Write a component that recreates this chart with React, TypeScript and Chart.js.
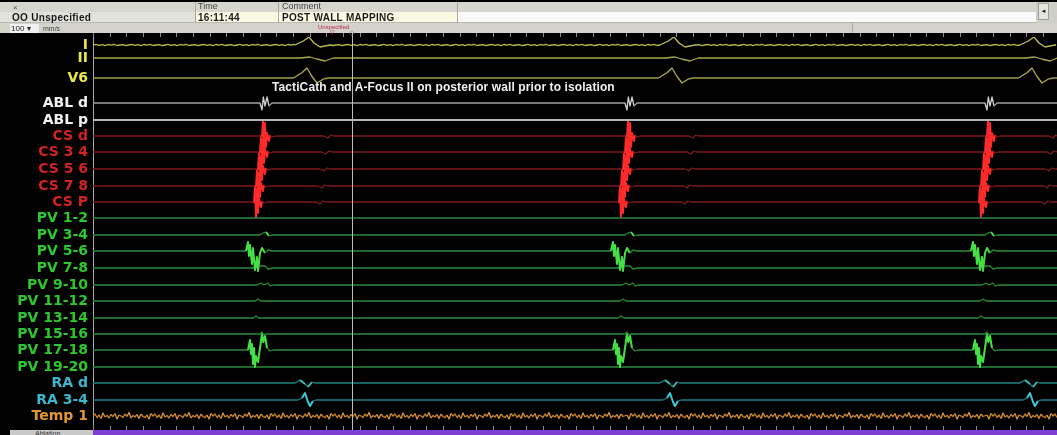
import React, { useEffect, useRef } from 'react';
import { Chart, registerables } from 'chart.js';

Chart.register(...registerables);

// ---------- data ----------
const CHANNELS = [
  'I', 'II', 'V6', 'ABL d', 'ABL p', 'CS d', 'CS 3 4', 'CS 5 6', 'CS 7 8', 'CS P',
  'PV 1-2', 'PV 3-4', 'PV 5-6', 'PV 7-8', 'PV 9-10', 'PV 11-12', 'PV 13-14', 'PV 15-16',
  'PV 17-18', 'PV 19-20', 'RA d', 'RA 3-4', 'Temp 1',
];
// trace baseline offsets (display units)
const OFFSETS = [45, 58, 78, 103, 120, 136, 152, 169, 186, 202, 218, 235, 251, 268, 285, 301, 318, 334, 350, 367, 383, 400, 416];

const SWEEP_MS = 2892;
const BEAT_MS = [501, 1596, 2676];
const CURSOR_MS = 777;
const RULER_STEP_MS = 50;

// complexes: [ms relative to beat, deflection]
const ECG_I = [[105, 0], [130, -4], [147, -8], [162, -2], [180, 2], [210, 0]];
const ECG_II = [[120, 0], [150, -1], [170, 1], [195, 3], [220, 0]];
const ECG_V6 = [[100, 0], [125, -5], [141, -10], [155, -2], [171, 5], [190, 1], [205, 0]];
const ABL_D = [[0, 0], [6, 7], [10, -6], [15, 3], [21, -6], [27, 3], [36, 0]];
const FLAT = [[0, 0]];
const CS_COMPLEX = [[-12, 0], [-6, 1], [-3, -16], [0, 15], [3, -13], [6, 11], [9, -3], [15, 5], [18, -1], [24, 1], [33, 0], [180, 0], [192, 2], [200, -1], [210, 0]];
const CS_SHIFT_MS = [12, 6, 0, -6, -12];
const PV_3_4 = [[0, 0], [9, -2], [18, -3], [27, 1], [36, 0]];
const PV_5_6 = [[-42, 0], [-36, -9], [-33, 5], [-30, -6], [-24, 13], [-21, -3], [-15, 19], [-9, 6], [-6, 20], [0, 2], [6, -3], [15, 2], [24, -1], [36, 0]];
const PV_7_8 = [[-15, 0], [0, -2], [15, -2], [24, 1], [39, 0]];
const PV_9_10 = [[-9, 0], [3, -2], [12, 0], [24, -2], [30, 1], [39, 0]];
const PV_11_12 = [[-15, 0], [-6, -2], [3, 0]];
const PV_13_14 = [[-21, 0], [-12, -2], [-3, 0]];
const PV_15_16 = [[0, 0], [6, -2], [12, 1], [18, 0]];
const PV_17_18 = [[-36, 0], [-30, -10], [-27, 4], [-24, -6], [-21, 14], [-18, -2], [-15, 17], [-12, 6], [-6, 12], [0, -2], [6, -16], [10, -8], [15, -14], [21, -2], [30, 1], [39, 0]];
const RA_D = [[105, 0], [120, -3], [135, 1], [144, 4], [156, -1], [165, 0]];
const RA_3_4 = [[114, 0], [126, -2], [135, -7], [144, 2], [150, 6], [159, 1], [168, 0]];

// baseline noise
const NOISE_I = [0, -0.6, 0.4, -0.3, 0.7, -0.5, 0.2, -0.7, 0.5, 0, -0.4, 0.6];
const NOISE_TEMP = [0, -2, 1.5, -1, 2.5, -3, 1, -0.5, 2, -1.5, 0.5, -2.5, 3, -1, 0, 1.5, -2, 0.5, -3.5, 2, -0.5, 1, -1.5, 2.5, -2, 0.5, 1.5, -1, 3, -2.5];

// ---------- styles ----------
const LABEL_COLORS = [
  '#e8e84a', '#e8e84a', '#e8e84a', '#f2f2f2', '#f2f2f2',
  '#d42222', '#d42222', '#d42222', '#d42222', '#d42222',
  '#2cc82c', '#2cc82c', '#2cc82c', '#2cc82c', '#2cc82c', '#2cc82c', '#2cc82c', '#2cc82c', '#2cc82c', '#2cc82c',
  '#3ab8d0', '#3ab8d0', '#e6962e',
];
const LINE_COLORS = [
  '#b8b84c', '#a8a84c', '#a09c46', '#a0a0a0', '#b4b4b4',
  '#7e1a1a', '#7e1a1a', '#7e1a1a', '#7e1a1a', '#7e1a1a',
  '#2b8a3a', '#2b8a3a', '#2b8a3a', '#2b8a3a', '#2b8a3a', '#2b8a3a', '#2b8a3a', '#2b8a3a', '#2b8a3a', '#2b8a3a',
  '#1f8480', '#1f7c88', '#c8842c',
];
const SPIKE_COLORS = [
  '#c0c050', '#b4b450', '#b0ac4c', '#d0d0d0', '#b4b4b4',
  '#ff2a2a', '#ff2a2a', '#ff2a2a', '#ff2a2a', '#ff2a2a',
  '#44e044', '#44e044', '#44e044', '#44e044', '#44e044', '#44e044', '#44e044', '#44e044', '#44e044', '#44e044',
  '#36c0b8', '#3cc8d8', '#d8943a',
];

const COMPLEXES = [
  ECG_I, ECG_II, ECG_V6, ABL_D, FLAT,
  ...CS_SHIFT_MS.map((s) => CS_COMPLEX.map(([t, d]) => [t + s, d])),
  FLAT, PV_3_4, PV_5_6, PV_7_8, PV_9_10, PV_11_12, PV_13_14, PV_15_16, PV_17_18, FLAT,
  RA_D, RA_3_4, FLAT,
];
const NOISE: (number[] | null)[] = CHANNELS.map((c) => (c === 'I' ? NOISE_I : c === 'Temp 1' ? NOISE_TEMP : null));
const NOISE_STEP_MS: Record<string, number> = { I: 9, 'Temp 1': 6 };

function buildTrace(i: number) {
  const base = OFFSETS[i];
  const cx = COMPLEXES[i];
  const noise = NOISE[i];
  const pts: { x: number; y: number }[] = [];
  const wins = BEAT_MS.map((b) => [b + cx[0][0], b + cx[cx.length - 1][0]]);
  if (noise) {
    const step = NOISE_STEP_MS[CHANNELS[i]];
    let k = 0;
    for (let t = 0; t <= SWEEP_MS; t += step, k++) {
      if (wins.some(([a, b]) => t >= a && t <= b)) continue;
      pts.push({ x: t, y: base + noise[k % noise.length] });
    }
  } else {
    pts.push({ x: 0, y: base });
    pts.push({ x: SWEEP_MS, y: base });
  }
  if (cx.length > 1) BEAT_MS.forEach((b) => cx.forEach(([dt, dy]) => pts.push({ x: b + dt, y: base + dy })));
  pts.sort((a, b) => a.x - b.x);
  return pts;
}

const overlayPlugin = {
  id: 'overlay',
  beforeDraw(chart: any) {
    const { ctx, width, height } = chart;
    ctx.save();
    ctx.fillStyle = '#000';
    ctx.fillRect(0, 0, width, height);
    ctx.restore();
  },
  afterDatasetsDraw(chart: any) {
    const { ctx, chartArea } = chart;
    const x = chart.scales.x;
    ctx.save();
    ctx.strokeStyle = '#8c8c8c';
    ctx.lineWidth = 1;
    ctx.beginPath();
    for (let t = 0; t <= x.max; t += RULER_STEP_MS) {
      const px = Math.round(x.getPixelForValue(t)) + 0.5;
      ctx.moveTo(px, 33);
      ctx.lineTo(px, 37);
      ctx.moveTo(px, chartArea.bottom - 4);
      ctx.lineTo(px, chartArea.bottom);
    }
    ctx.stroke();
    const cx = Math.round(x.getPixelForValue(CURSOR_MS)) + 0.5;
    ctx.strokeStyle = '#bcbcbc';
    ctx.beginPath();
    ctx.moveTo(cx, 33);
    ctx.lineTo(cx, chartArea.bottom);
    ctx.stroke();
    ctx.restore();
  },
};

const abs = (l: number, t: number, w: number, h: number, extra: React.CSSProperties = {}): React.CSSProperties => ({
  position: 'absolute', left: l, top: t, width: w, height: h, ...extra,
});
const hdrFont = '"Liberation Sans", Arial, sans-serif';

export default function App() {
  const ref = useRef<HTMLCanvasElement>(null);
  useEffect(() => {
    document.body.style.margin = '0';
    const datasets = CHANNELS.map((name, i) => ({
      label: name,
      data: buildTrace(i),
      borderColor: LINE_COLORS[i],
      borderWidth: i === 4 ? 1.8 : 1.3,
      pointRadius: 0,
      tension: 0,
      fill: false,
      segment: {
        borderColor: (c: any) => (Math.abs(c.p1.parsed.y - c.p0.parsed.y) > 3.5 ? SPIKE_COLORS[i] : LINE_COLORS[i]),
        borderWidth: (c: any) => (Math.abs(c.p1.parsed.y - c.p0.parsed.y) > 3.5 && i >= 5 && i <= 21 ? 2 : i === 4 ? 1.8 : 1.3),
      },
    }));
    const chart = new Chart(ref.current!, {
      type: 'line',
      data: { datasets },
      plugins: [overlayPlugin],
      options: {
        animation: false,
        responsive: false,
        maintainAspectRatio: false,
        devicePixelRatio: 1,
        layout: { padding: { top: 37, bottom: 5, left: 0, right: 0 } },
        plugins: { legend: { display: false }, tooltip: { enabled: false } },
        elements: { line: { borderJoinStyle: 'round' } },
        scales: {
          x: { type: 'linear', min: 0, max: SWEEP_MS, display: false },
          y: {
            type: 'linear',
            reverse: true,
            min: 37,
            max: 430,
            afterFit: (s: any) => {
              s.width = 93;
              s.paddingTop = 0;
              s.paddingBottom = 0;
            },
            afterBuildTicks: (s: any) => {
              s.ticks = OFFSETS.map((v) => ({ value: v }));
            },
            ticks: {
              autoSkip: false,
              padding: 5,
              color: (c: any) => LABEL_COLORS[c.index],
              font: { family: '"DejaVu Sans", sans-serif', weight: 'bold', size: 14 },
              callback: (_v: any, idx: number) => CHANNELS[idx],
            },
            grid: { display: false, drawTicks: false },
            border: { display: true, color: '#a8a8a8', width: 1 },
          },
        },
      } as any,
    });
    return () => chart.destroy();
  }, []);

  const sep = (x: number, t: number, h: number) => <div style={abs(x, t, 1, h, { background: '#a9a9a2' })} />;
  const txt = (x: number, t: number, s: string, st: React.CSSProperties) => (
    <div style={abs(x, t, 420, 12, { fontFamily: hdrFont, whiteSpace: 'nowrap', lineHeight: '11px', ...st })}>{s}</div>
  );

  return (
    <div style={{ position: 'relative', width: 1057, height: 435, background: '#000', overflow: 'hidden' }}>
      <canvas ref={ref} width={1057} height={435} style={{ position: 'absolute', left: 0, top: 0 }} />
      {/* header row 1 */}
      <div style={abs(0, 2, 1036, 10, { background: '#d6d6cf' })} />
      {/* header row 2 */}
      <div style={abs(0, 12, 195, 11, { background: '#e2e2dc' })} />
      <div style={abs(195, 12, 262, 11, { background: '#fbfbe3' })} />
      <div style={abs(457, 12, 579, 11, { background: '#fafafa' })} />
      <div style={abs(1036, 2, 21, 21, { background: '#cfcfc8' })} />
      <div style={abs(1038, 3, 11, 17, { background: '#e4e4de', border: '1px solid #a0a09a', boxSizing: 'border-box', fontSize: 6, color: '#222', textAlign: 'center', lineHeight: '15px' })}>◄</div>
      {/* header row 3 */}
      <div style={abs(0, 23, 1057, 10, { background: '#d3d3cc' })} />
      <div style={abs(0, 22, 1036, 1, { background: '#b8b8b0' })} />
      {sep(195, 2, 21)}
      {sep(278, 2, 21)}
      {sep(457, 2, 21)}
      {sep(852, 23, 10)}
      <div style={abs(10, 24, 28, 9, { background: '#f2f2f2', fontFamily: hdrFont, fontSize: 8, lineHeight: '9px', color: '#222', paddingLeft: 1 })}>100 ▾</div>
      {txt(43, 23, 'mm/s', { fontSize: 7, color: '#444' })}
      {txt(13, 2, '×', { fontSize: 8, color: '#555' })}
      {txt(198, 1, 'Time', { fontSize: 9, color: '#444' })}
      {txt(282, 1, 'Comment', { fontSize: 9, color: '#444' })}
      {txt(12, 12, 'OO Unspecified', { fontSize: 10, fontWeight: 'bold', color: '#1a1a1a', letterSpacing: 0.3 })}
      {txt(198, 12, '16:11:44', { fontSize: 10, fontWeight: 'bold', color: '#1a1a1a', letterSpacing: 0.3 })}
      {txt(282, 12, 'POST WALL MAPPING', { fontSize: 10, fontWeight: 'bold', color: '#1a1a1a', letterSpacing: 0.3 })}
      {txt(318, 22, 'Unspecified', { fontSize: 6, color: '#c02040' })}
      {txt(330, 27, '▽', { fontSize: 6, color: '#c02040' })}
      {txt(349, 27, '◇', { fontSize: 7, color: '#777' })}
      {/* annotation */}
      {txt(272, 81, 'TactiCath and A-Focus II on posterior wall prior to isolation', { fontSize: 12, fontWeight: 'bold', color: '#f0f0f0', letterSpacing: 0.1, lineHeight: '13px', height: 14 })}
      {/* bottom bar */}
      <div style={abs(10, 430, 83, 5, { background: '#c8c8c8', overflow: 'hidden' })}>
        <div style={{ fontFamily: hdrFont, fontSize: 7, color: '#333', paddingLeft: 25, lineHeight: '8px' }}>Ablation</div>
      </div>
      <div style={abs(93, 430, 964, 5, { background: '#7d3fd3' })} />
    </div>
  );
}
